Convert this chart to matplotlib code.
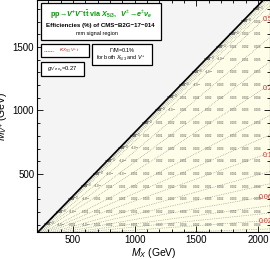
import numpy as np
import matplotlib
matplotlib.use("Agg")
import matplotlib.pyplot as plt
from matplotlib.ticker import MultipleLocator, FixedLocator
from matplotlib.patches import Rectangle
from matplotlib.lines import Line2D

plt.rcParams['font.family'] = ['Liberation Sans', 'DejaVu Sans']
plt.rcParams['mathtext.fontset'] = 'custom'
plt.rcParams['mathtext.rm'] = 'Liberation Sans'
plt.rcParams['mathtext.it'] = 'Liberation Sans:italic'
plt.rcParams['mathtext.bf'] = 'Liberation Sans:bold'
plt.rcParams['mathtext.bfit'] = 'Liberation Sans:italic:bold'

# ---------------- data ----------------
m_top = 173.0
mx_ticks = [500, 1000, 1500, 2000]
mv_ticks = [500, 1000, 1500]
mv_rows = [100, 200, 300, 400, 500, 600, 700, 800, 900, 1000,
           1100, 1200, 1300, 1400, 1500, 1600, 1700, 1800]
mx_last = 2000
mx_step = 100
mx_gap = 200
# efficiencies (%) per M_V row, from M_X = M_V + 200 up to 2000 (0 -> <10^-3)
eff_rows = [
    [0, 0, 0.001, 0, 0.001, 0.002, 0.002, 0.001, 0.002, 0.003, 0.002, 0.004, 0.002, 0.003, 0.002, 0.003, 0.003, 0.004],
    [0, 0, 0.001, 0.001, 0.002, 0.002, 0.001, 0.003, 0.002, 0.002, 0.004, 0.002, 0.003, 0.003, 0.002, 0.003, 0.004],
    [0, 0, 0.001, 0.002, 0.001, 0.002, 0.003, 0.001, 0.002, 0.003, 0.002, 0.003, 0.002, 0.003, 0.002, 0.004],
    [0, 0, 0.001, 0.001, 0.002, 0.001, 0.003, 0.002, 0.004, 0.002, 0.001, 0.004, 0.002, 0.003, 0.004],
    [0, 0, 0, 0.001, 0.002, 0.001, 0.002, 0.001, 0.002, 0.003, 0.002, 0.001, 0.003, 0.004],
    [0, 0, 0.001, 0.001, 0.002, 0.002, 0.001, 0.002, 0.002, 0.004, 0.001, 0.002, 0.001],
    [0, 0, 0.001, 0.002, 0.002, 0.001, 0.003, 0.002, 0.003, 0.002, 0.003, 0.004],
    [0, 0.001, 0.001, 0.002, 0.002, 0.004, 0.002, 0.002, 0.003, 0.004, 0.004],
    [0, 0.001, 0.002, 0.001, 0.003, 0.002, 0.002, 0.003, 0.002, 0.004],
    [0, 0, 0.001, 0.001, 0.002, 0.002, 0.003, 0.003, 0.003],
    [0, 0.001, 0.001, 0.002, 0.002, 0.003, 0.002, 0.004],
    [0, 0, 0.001, 0.003, 0.002, 0.001, 0.003],
    [0, 0, 0.002, 0.003, 0.002, 0.003],
    [0, 0, 0.003, 0.001, 0.005],
    [0, 0.001, 0.002, 0.003],
    [0, 0.002, 0.001],
    [0, 0.002],
    [0],
]
kappa_labels = ["0.5", "0.2", "0.1", "0.06", "0.02"]
kappa_ratio = [0.917, 0.626, 0.347, 0.171, 0.070]
kappa_label_mx = [2041, 2041, 2041, 2005, 2005]
extra_ratio = [0.035, 0.10, 0.13, 0.22, 0.27, 0.42, 0.50, 0.72, 0.82,
               0.95, 0.965, 0.978, 0.988, 0.995]

xlim = (208, 2097)
ylim = (43, 1870)

# ---------------- figure ----------------
fig = plt.figure(figsize=(2.70, 2.59), dpi=100)
ax = fig.add_axes([37/270, 27/259, 233/270, 232/259])
ax.set_xlim(*xlim)
ax.set_ylim(*ylim)
ax.set_facecolor('#f4f4f4')

xs = np.linspace(xlim[0], xlim[1], 200)
ax.fill_between(xs, ylim[0], xs - m_top, color='#fefee8', zorder=0, lw=0)

# contour lines
for r in list(kappa_ratio) + extra_ratio:
    xx = np.linspace(m_top, xlim[1], 300)
    ax.plot(xx, r * (xx - m_top), ls=(0, (1, 1.6)), color='#8a8a8a', lw=0.5, zorder=1)

for lab, r, mxl in zip(kappa_labels, kappa_ratio, kappa_label_mx):
    ax.text(mxl, r * (mxl - m_top), lab, color='#c83232', fontsize=5,
            ha='left', va='center', zorder=4)

# diagonal kinematic limit
ax.plot(xs, xs - m_top, color='black', lw=1.2, zorder=3)

# efficiency numbers
for mv, row in zip(mv_rows, eff_rows):
    for i, val in enumerate(row):
        mx = mv + mx_gap + i * mx_step
        if val == 0:
            txt = r"<10$^{-3}$"
        else:
            txt = f"{val:.3f}"
        big = (i == 0)
        ax.text(mx, mv, txt, fontsize=2.8 if big else 2.2,
                color='#333333' if big else '#4a4a4a',
                fontweight='bold' if big else 'normal',
                ha='center', va='center', zorder=2)

# ticks
ax.xaxis.set_major_locator(FixedLocator(mx_ticks))
ax.yaxis.set_major_locator(FixedLocator(mv_ticks))
ax.xaxis.set_minor_locator(MultipleLocator(100))
ax.yaxis.set_minor_locator(MultipleLocator(100))
ax.tick_params(which='both', direction='in', top=True, right=True, width=0.6,
               labelsize=7, pad=2)
ax.tick_params(which='major', length=4)
ax.tick_params(which='minor', length=2)
for s in ax.spines.values():
    s.set_linewidth(0.8)

ax.set_xlabel(r"$M_X$ (GeV)", fontsize=7.5, labelpad=1)
ax.set_ylabel(r"$M_{V^{+}}$ (GeV)", fontsize=7.5, labelpad=3)

# ---------------- info boxes (axes fraction) ----------------
def px_box(x0, y0, x1, y1):
    fx0 = (x0 - 37) / 233
    fx1 = (x1 - 37) / 233
    fy0 = 1 - y1 / 232
    fy1 = 1 - y0 / 232
    return fx0, fy0, fx1 - fx0, fy1 - fy0

def add_box(x0, y0, x1, y1):
    bx, by, w, h = px_box(x0, y0, x1, y1)
    ax.add_patch(Rectangle((bx, by), w, h, transform=ax.transAxes,
                           facecolor='white', edgecolor='black', lw=0.9,
                           zorder=5, clip_on=False))

def fx(px):
    return (px - 37) / 233

def fy(py):
    return 1 - py / 232

add_box(41, 3, 161, 40)
ax.text(fx(101), fy(15),
        r"$\mathbf{pp}\!\rightarrow\!\mathbfit{V}^{\mathbf{+}}\mathbfit{V}^{\mathbf{-}}\mathbf{t\bar{t}\ via\ }\mathbfit{X}_{\mathbf{5/3}}\mathbf{,\ \ }\mathbfit{V}^{\pm}\!\rightarrow\!\mathbfit{e}^{\pm}\mathbfit{\nu}_{\mathbfit{e}}$",
        transform=ax.transAxes, color='#00a000', fontsize=5.2,
        ha='center', va='center', zorder=6)
ax.text(fx(100), fy(25), "Efficiencies (%) of CMS\u2212B2G\u221217\u2212014",
        transform=ax.transAxes, color='black', fontsize=4.4, fontweight='bold',
        ha='center', va='center', zorder=6)
ax.text(fx(97), fy(33), "mm signal region",
        transform=ax.transAxes, color='black', fontsize=4,
        ha='center', va='center', zorder=6)

add_box(41, 44, 89, 57)
ax.add_line(Line2D([fx(44), fx(53)], [fy(51), fy(51)], transform=ax.transAxes,
                   color='#c83232', lw=0.6, ls=(0, (1, 1)), zorder=6))
ax.text(fx(69), fy(51), r"$\kappa_{X_{5/3}\,V^{+}\,t}$",
        transform=ax.transAxes, color='#c83232', fontsize=4.6,
        ha='center', va='center', zorder=6)

add_box(92, 44, 152, 65)
ax.text(fx(122), fy(50), r"$\Gamma$/M=0.1%",
        transform=ax.transAxes, color='black', fontsize=4,
        ha='center', va='center', zorder=6)
ax.text(fx(121), fy(58), r"for both $X_{5/3}$ and $V^{+}$",
        transform=ax.transAxes, color='black', fontsize=4,
        ha='center', va='center', zorder=6)

add_box(41, 62, 84, 76)
ax.text(fx(62), fy(69), r"$g_{V^{\prime}\,e\,\nu_{e}}$=0.27",
        transform=ax.transAxes, color='black', fontsize=4.2,
        ha='center', va='center', zorder=6)

fig.savefig("out.png", dpi=100)
